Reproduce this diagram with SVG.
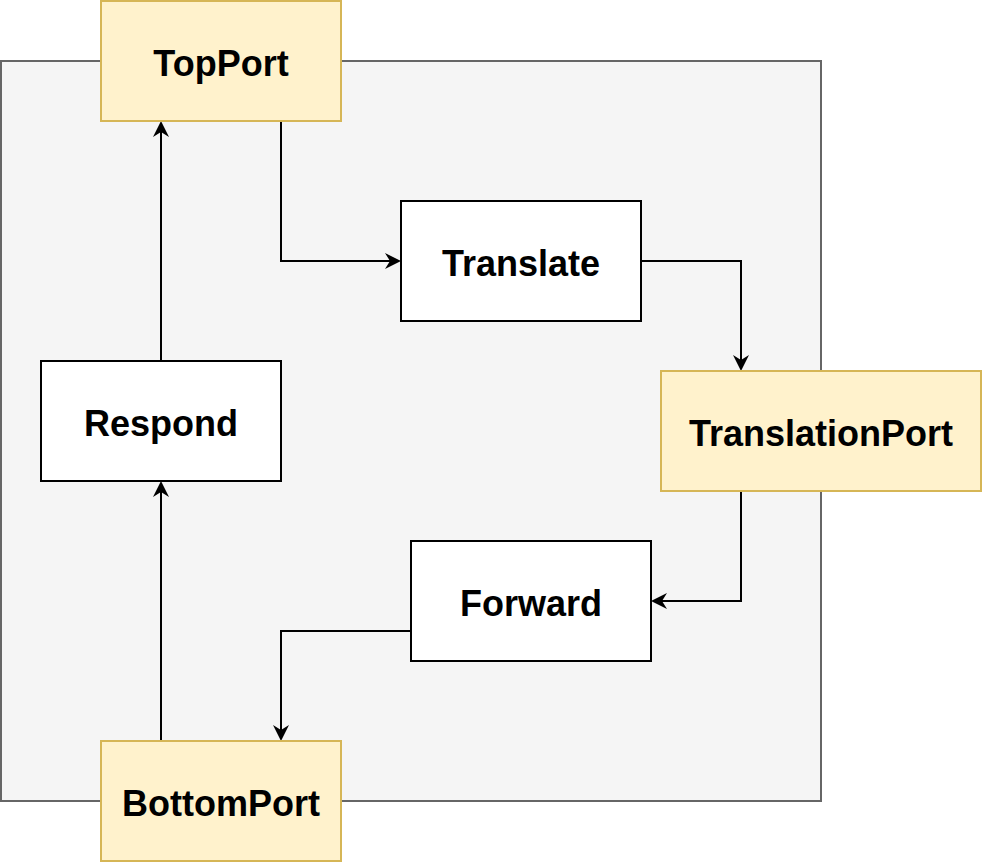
<svg xmlns="http://www.w3.org/2000/svg" width="982" height="862" viewBox="0 0 982 862">
<defs>
<style>
.port{fill:#fff2cc;stroke:#d6b656;stroke-width:2}
.proc{fill:#ffffff;stroke:#000000;stroke-width:2}
.lbl{font-family:"Liberation Sans",Arial,Helvetica,sans-serif;font-weight:bold;font-size:36px;fill:#000;text-anchor:middle}
.edge{fill:none;stroke:#000;stroke-width:2}
</style>
<marker id="arr" markerUnits="userSpaceOnUse" markerWidth="16" markerHeight="16" refX="5" refY="8" orient="auto" overflow="visible">
<path d="M0,0 L16,8 L0,16 L5,8 Z" fill="#000"/>
</marker>
</defs>
<rect id="container" x="1" y="61" width="820" height="740" fill="#f5f5f5" stroke="#666666" stroke-width="2"/>
<g id="connectors">
<path class="edge" d="M281,121 V261 H390" marker-end="url(#arr)"/>
<path class="edge" d="M641,261 H741 V360" marker-end="url(#arr)"/>
<path class="edge" d="M741,491 V601 H662" marker-end="url(#arr)"/>
<path class="edge" d="M411,631 H281 V730" marker-end="url(#arr)"/>
<path class="edge" d="M161,741 V492" marker-end="url(#arr)"/>
<path class="edge" d="M161,361 V132" marker-end="url(#arr)"/>
</g>
<g id="TopPort"><rect class="port" x="101" y="1" width="240" height="120"/><text class="lbl" x="221" y="76">TopPort</text></g>
<g id="Translate"><rect class="proc" x="401" y="201" width="240" height="120"/><text class="lbl" x="521" y="276">Translate</text></g>
<g id="TranslationPort"><rect class="port" x="661" y="371" width="320" height="120"/><text class="lbl" x="821" y="446">TranslationPort</text></g>
<g id="Forward"><rect class="proc" x="411" y="541" width="240" height="120"/><text class="lbl" x="531" y="616">Forward</text></g>
<g id="Respond"><rect class="proc" x="41" y="361" width="240" height="120"/><text class="lbl" x="161" y="436">Respond</text></g>
<g id="BottomPort"><rect class="port" x="101" y="741" width="240" height="120"/><text class="lbl" x="221" y="816">BottomPort</text></g>
</svg>
